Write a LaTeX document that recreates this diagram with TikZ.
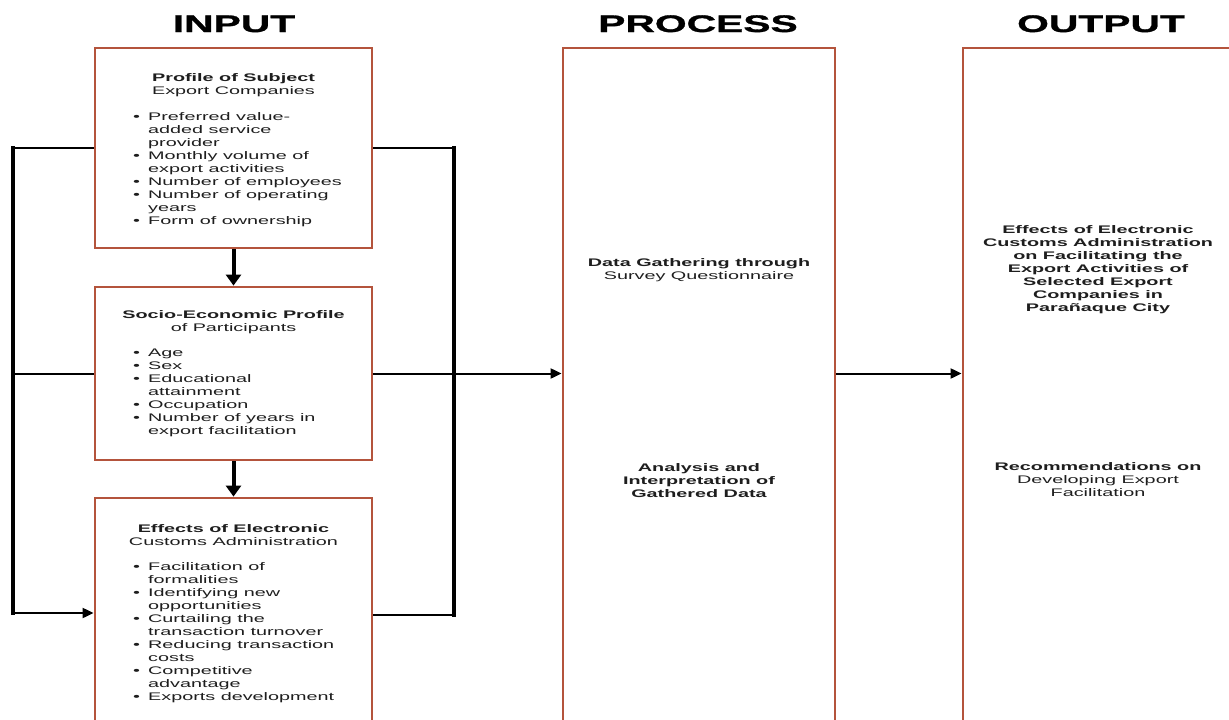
\documentclass[tikz,border=0pt]{standalone}
\usepackage{fontspec}
\setmainfont[FakeStretch=1.8]{Liberation Sans}
\newfontfamily\titlefont[FakeStretch=1.7,FakeBold=1.2]{Liberation Sans}
\usetikzlibrary{arrows.meta}
\definecolor{boxred}{RGB}{180,84,60}
\definecolor{txt}{RGB}{30,30,30}
\tikzset{
  box/.style={draw=boxred, line width=2.8pt, fill=white, inner sep=0pt},
  head/.style={font=\titlefont\bfseries\fontsize{24}{26}\selectfont, anchor=base, inner sep=0pt},
  txtc/.style={font=\fontsize{11}{13}\selectfont, align=center, anchor=north, inner sep=0pt, text=txt},
  txtl/.style={font=\fontsize{11}{13}\selectfont, align=left, anchor=north west, inner sep=0pt, text=txt},
  conn/.style={line width=2pt, black},
  thickconn/.style={line width=3.8pt, black},
  arr/.style={line width=2pt, black, -{Triangle[length=11pt,width=10pt]}},
  downarr/.style={line width=4pt, black, -{Triangle[length=11pt,width=15pt]}}
}
\newcommand{\bul}{\makebox[15pt][l]{\textbullet}}
\newcommand{\ind}{\hspace*{15pt}}
\begin{document}
\begin{tikzpicture}[x=1pt,y=-1pt]
\useasboundingbox (0,0) rectangle (1229,720);
\clip (0,0) rectangle (1229,720);
\fill[white] (0,0) rectangle (1229,720);

% titles
\node[head] (tin) at (234,32) {INPUT};
\node[head] (tproc) at (698,32) {PROCESS};
\node[head] (tout) at (1101,32) {OUTPUT};

% boxes
\node[box, minimum width=277pt, minimum height=200pt] (b1) at (233.5,148) {};
\node[box, minimum width=277pt, minimum height=173pt] (b2) at (233.5,373.5) {};
\node[box, minimum width=277pt, minimum height=242pt] (b3) at (233.5,619) {};
\node[box, minimum width=272pt, minimum height=692pt] (proc) at (699,394) {};
\node[box, minimum width=273pt, minimum height=692pt] (out) at (1099.5,394) {};

% box 1 text
\node[txtc] (h1) at (233.5,73) {\textbf{Profile of Subject}\\Export Companies};
\node[txtl] (l1) at (133,112) {\bul Preferred value-\\\ind added service\\\ind provider\\
\bul Monthly volume of\\\ind export activities\\\bul Number of employees\\
\bul Number of operating\\\ind years\\\bul Form of ownership};

% box 2 text
\node[txtc] (h2) at (233.5,310) {\textbf{Socio-Economic Profile}\\of Participants};
\node[txtl] (l2) at (133,349) {\bul Age\\\bul Sex\\\bul Educational\\\ind attainment\\
\bul Occupation\\\bul Number of years in\\\ind export facilitation};

% box 3 text
\node[txtc] (h3) at (233.5,524) {\textbf{Effects of Electronic}\\Customs Administration};
\node[txtl] (l3) at (133,562) {\bul Facilitation of\\\ind formalities\\\bul Identifying new\\\ind opportunities\\
\bul Curtailing the\\\ind transaction turnover\\\bul Reducing transaction\\\ind costs\\
\bul Competitive\\\ind advantage\\\bul Exports development};

% process text
\node[txtc] (p1) at (699,258) {\textbf{Data Gathering through}\\Survey Questionnaire};
\node[txtc, font=\bfseries\fontsize{11}{13}\selectfont] (p2) at (699,463) {Analysis and\\Interpretation of\\Gathered Data};

% output text
\node[txtc, font=\bfseries\fontsize{11}{13}\selectfont] (o1) at (1098,225) {Effects of Electronic\\Customs Administration\\on Facilitating the\\Export Activities of\\Selected Export\\Companies in\\Parañaque City};
\node[txtc] (o2) at (1098,462) {\textbf{Recommendations on}\\Developing Export\\Facilitation};

% loop coordinates
\coordinate (L1) at (13,148);
\coordinate (L2) at (13,373.5);
\coordinate (L3) at (13,613);
\coordinate (R1) at (454,148);
\coordinate (R3) at (454,615);

% left loop
\draw[conn] (b1.west) -- (L1);
\draw[conn] (b2.west) -- (L2);
\draw[thickconn, line cap=rect] (L1) -- (L3);
\draw[arr] (L3) -- (b3.west |- L3);

% right loop
\draw[conn] (b1.east) -- (R1);
\draw[conn] (b3.east |- R3) -- (R3);
\draw[thickconn, line cap=rect] (R1) -- (R3);

% main arrows
\draw[arr] (b2.east) -- (proc.west |- b2.east);
\draw[arr] (proc.east |- b2.east) -- (out.west |- b2.east);

% down arrows
\draw[downarr] (b1.south) -- (b2.north);
\draw[downarr] (b2.south) -- (b3.north);
\end{tikzpicture}
\end{document}
